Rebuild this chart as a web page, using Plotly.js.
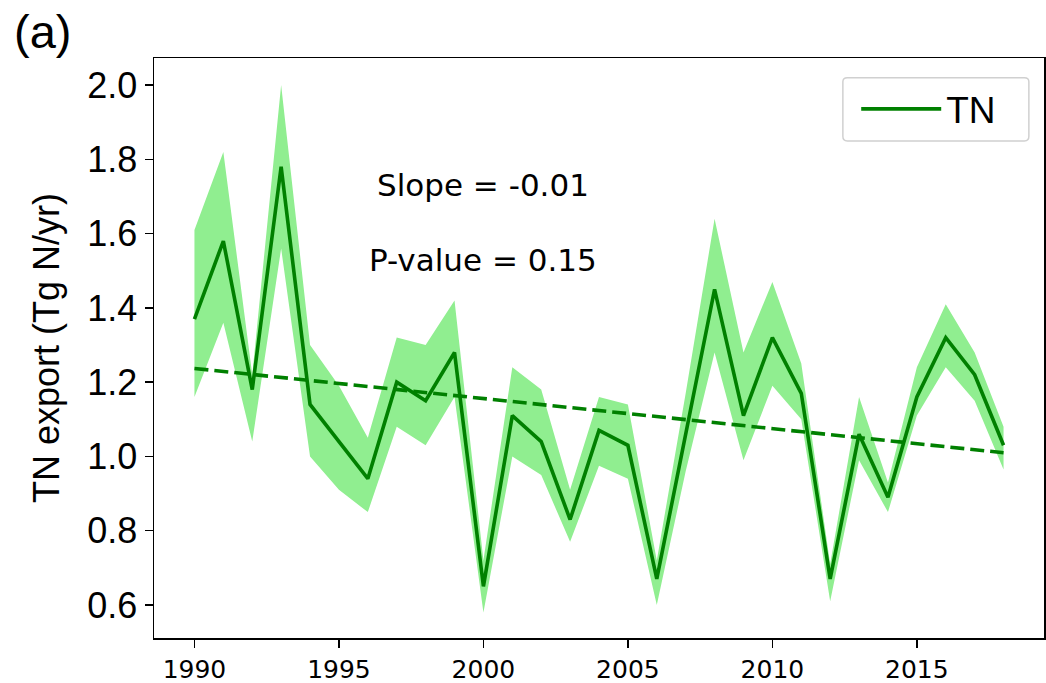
<!DOCTYPE html>
<html>
<head>
<meta charset="utf-8">
<script src="https://cdn.plot.ly/plotly-3.0.1.min.js"></script>
<style>html,body{margin:0;padding:0;background:#fff;}#chart{width:1046px;height:683px;}</style>
</head>
<body>
<div id="chart"></div>
<script>
// ---- data ----
const years = [1990,1991,1992,1993,1994,1995,1996,1997,1998,1999,2000,2001,2002,2003,2004,2005,2006,2007,2008,2009,2010,2011,2012,2013,2014,2015,2016,2017,2018];
const tnMean = [1.37,1.58,1.18,1.78,1.14,1.04,0.94,1.20,1.15,1.28,0.65,1.11,1.04,0.83,1.07,1.03,0.67,1.06,1.45,1.11,1.32,1.17,0.67,1.06,0.89,1.16,1.32,1.22,1.03];
const tnUpper = [1.61,1.82,1.22,2.00,1.30,1.19,1.05,1.32,1.30,1.42,0.72,1.24,1.18,0.91,1.16,1.14,0.72,1.17,1.64,1.28,1.47,1.25,0.71,1.16,0.93,1.24,1.41,1.28,1.08];
const tnLower = [1.16,1.36,1.04,1.56,1.00,0.91,0.85,1.08,1.03,1.16,0.58,1.00,0.95,0.77,0.975,0.94,0.60,0.96,1.28,0.99,1.19,1.10,0.61,0.99,0.85,1.11,1.24,1.15,0.965];
const trendYears = [1990, 2018];
const trendValues = [1.237, 1.010];
const xTickVals = [1990,1995,2000,2005,2010,2015];
const yTickVals = [0.6,0.8,1.0,1.2,1.4,1.6,1.8,2.0];
const yTickText = ['0.6','0.8','1.0','1.2','1.4','1.6','1.8','2.0'];
const slopeText = 'Slope = -0.01';
const pText = 'P-value = 0.15';
const seriesName = 'TN';

const traces = [
  {x: years, y: tnLower, type: 'scatter', mode: 'lines', line: {width: 0, color: 'rgba(0,0,0,0)'}, showlegend: false, hoverinfo: 'skip'},
  {x: years, y: tnUpper, type: 'scatter', mode: 'lines', fill: 'tonexty', fillcolor: '#90ee90', line: {width: 0, color: 'rgba(0,0,0,0)'}, showlegend: false, hoverinfo: 'skip'},
  {x: years, y: tnMean, type: 'scatter', mode: 'lines', name: seriesName, line: {color: '#008000', width: 3.6}},
  {x: trendYears, y: trendValues, type: 'scatter', mode: 'lines', showlegend: false, line: {color: '#008000', width: 3.6, dash: '14px,6px'}}
];

const layout = {
  width: 1046, height: 683,
  margin: {l: 154, r: 2, t: 58, b: 45, pad: 0},
  paper_bgcolor: '#ffffff', plot_bgcolor: '#ffffff',
  showlegend: true,
  xaxis: {
    range: [1988.6, 2019.4], tickvals: xTickVals, ticks: 'outside', ticklen: 8, tickwidth: 1.5, tickcolor: '#000',
    showgrid: false, zeroline: false, showline: true, linecolor: '#000', linewidth: 1.5, mirror: true,
    tickfont: {family: 'DejaVu Sans', size: 25, color: '#000'}
  },
  yaxis: {
    range: [0.511, 2.073], tickvals: yTickVals, ticktext: yTickText, ticks: 'outside', ticklen: 8, tickwidth: 1.5, tickcolor: '#000',
    showgrid: false, zeroline: false, showline: true, linecolor: '#000', linewidth: 1.5, mirror: true,
    tickfont: {family: 'Liberation Sans, Arial, sans-serif', size: 36, color: '#000'},
    title: {text: 'TN export (Tg N/yr)', font: {family: 'Liberation Sans, Arial, sans-serif', size: 36, color: '#000'}, standoff: 16}
  },
  legend: {
    x: 0.789, y: 0.965, xanchor: 'left', yanchor: 'top',
    bgcolor: 'rgba(0,0,0,0)', borderwidth: 0, itemwidth: 80,
    font: {family: 'Liberation Sans, Arial, sans-serif', size: 37, color: '#000'}
  },
  shapes: [
    {type: 'path', xref: 'paper', yref: 'paper', layer: 'above',
     path: 'M 0.779,0.966 L 0.978,0.966 Q 0.983,0.966 0.983,0.959 L 0.983,0.865 Q 0.983,0.857 0.978,0.857 L 0.779,0.857 Q 0.774,0.857 0.774,0.865 L 0.774,0.959 Q 0.774,0.966 0.779,0.966 Z',
     line: {color: '#d0d0d0', width: 1.5}, fillcolor: 'rgba(0,0,0,0)'}
  ],
  annotations: [
    {x: 2000, y: 1.73, xref: 'x', yref: 'y', text: slopeText, showarrow: false, xanchor: 'center', yanchor: 'middle',
     font: {family: 'DejaVu Sans', size: 31, color: '#000'}},
    {x: 2000, y: 1.53, xref: 'x', yref: 'y', text: pText, showarrow: false, xanchor: 'center', yanchor: 'middle',
     font: {family: 'DejaVu Sans', size: 31, color: '#000'}},
    {x: -0.16, y: 1.095, xref: 'paper', yref: 'paper', xanchor: 'left', yanchor: 'top', showarrow: false,
     text: '(a)', font: {family: 'Liberation Sans, Arial, sans-serif', size: 47, color: '#000'}}
  ]
};

Plotly.newPlot('chart', traces, layout, {displayModeBar: false, staticPlot: true});
</script>
</body>
</html>
